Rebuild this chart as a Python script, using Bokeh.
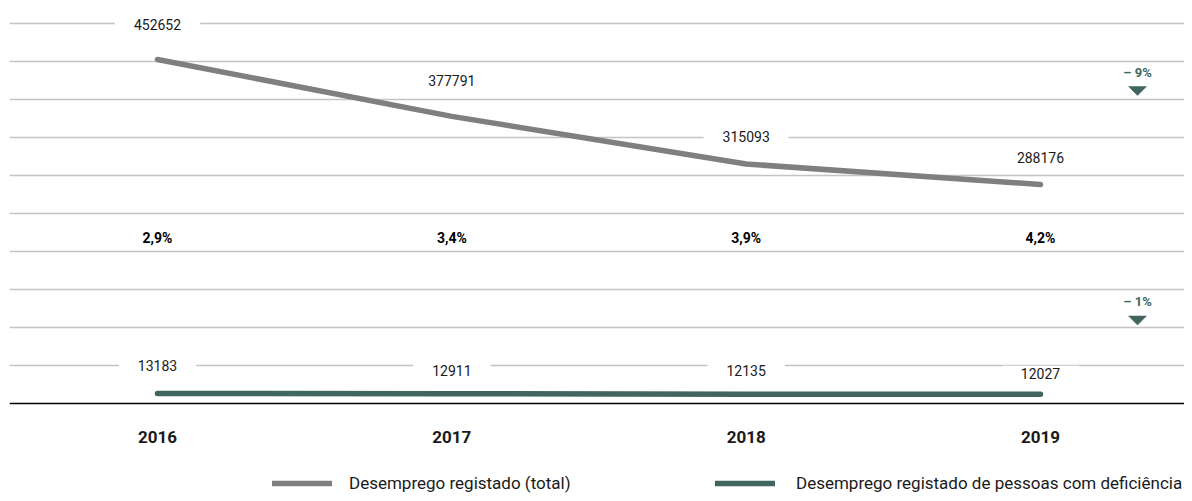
from bokeh.plotting import figure
from bokeh.models import (Range1d, FixedTicker, Legend, LegendItem,
                          ColumnDataSource, Span)
from bokeh.core.properties import value
from bokeh.embed import file_html
from bokeh.resources import INLINE

# ---------------- data ----------------
years = ["2016", "2017", "2018", "2019"]
total = [452652, 377791, 315093, 288176]
disabled = [13183, 12911, 12135, 12027]
share_labels = ["2,9%", "3,4%", "3,9%", "4,2%"]
change_total = "– 9%"
change_disabled = "– 1%"
series_names = ["Desemprego registado (total)",
                "Desemprego registado de pessoas com deficiência"]
grid_ticks = [50000, 100000, 150000, 200000, 250000, 300000, 350000, 400000, 450000, 500000]

# ---------------- style / layout ----------------
GRAY = "#7f7f7f"
GREEN = "#41665f"
GRID = "#c4c4c4"
TXT = "#1a1a1a"
FONT = "Roboto"
W, H = 1184, 493
LEFT = 9                       # frame left edge (px)
X0_PX, DX_PX = 157, 294.33     # px of first category, px per category
Y0_PX, Y_SPAN_PX, Y_SPAN_V = 403, 380, 500000   # px of zero, px for 500000

def yv(px):
    return (Y0_PX - px) * Y_SPAN_V / Y_SPAN_PX

def xv(px):
    return (px - X0_PX) / DX_PX

total_label_dy = [-35, -36, -28, -27]
disabled_label_dy = [-28, -23, -24, -21]
SHARE_PX = 237
YEAR_PX = 436
CHG_X_PX = 1137
CHG_TEXT_PX = [72, 301]
TRI_PX = [90.5, 320]
TRI_W, TRI_H = 18, 9

x = list(range(len(years)))

p = figure(width=W, height=H,
           x_range=Range1d(xv(LEFT), xv(W)), y_range=Range1d(yv(H), yv(0)),
           output_backend="svg", toolbar_location=None,
           x_axis_location=None, y_axis_location=None,
           min_border_left=LEFT, min_border_right=0,
           min_border_top=0, min_border_bottom=0)
p.outline_line_color = None
p.background_fill_color = "white"
p.border_fill_color = "white"

p.xgrid.visible = False
p.ygrid.ticker = FixedTicker(ticks=grid_ticks)
p.ygrid.grid_line_color = GRID
p.ygrid.grid_line_width = 1.3

# baseline (x axis line)
p.add_layout(Span(location=0, dimension="width", line_color="black", line_width=1.5))

# year tick labels
p.text(x, [yv(YEAR_PX)] * len(x), text=years, text_align="center", text_baseline="middle",
       text_font=value(FONT), text_font_style="bold", text_font_size="17px", text_color=TXT)

# value labels (white boxes interrupt gridlines)
pad = dict(left=19, right=19, top=2, bottom=2)
src_t = ColumnDataSource(dict(x=x, y=total, lab=[str(v) for v in total], dy=total_label_dy))
src_d = ColumnDataSource(dict(x=x, y=disabled, lab=[str(v) for v in disabled], dy=disabled_label_dy))
for src in (src_t, src_d):
    p.text("x", "y", text="lab", y_offset="dy", source=src,
           text_align="center", text_baseline="middle",
           text_font=value(FONT), text_font_size="14px", text_color=TXT,
           background_fill_color="white", padding=pad)

# lines
r1 = p.line(x, total, line_color=GRAY, line_width=5.5, line_cap="round", line_join="round")
r2 = p.line(x, disabled, line_color=GREEN, line_width=5.5, line_cap="round", line_join="round")

# share labels
p.text(x, [yv(SHARE_PX)] * len(x), text=share_labels, text_align="center", text_baseline="middle",
       text_font=value(FONT), text_font_style="bold", text_font_size="14px", text_color="black")

# change markers
cx = xv(CHG_X_PX)
p.text([cx, cx], [yv(v) for v in CHG_TEXT_PX], text=[change_total, change_disabled],
       text_align="center", text_baseline="middle",
       text_font=value(FONT), text_font_style="bold", text_font_size="13px", text_color=GREEN)
hw = TRI_W / 2 / DX_PX
tri_xs = [[cx - hw, cx + hw, cx] for _ in TRI_PX]
tri_ys = [[yv(c - TRI_H / 2), yv(c - TRI_H / 2), yv(c + TRI_H / 2)] for c in TRI_PX]
p.patches(tri_xs, tri_ys, fill_color=GREEN, line_color=GREEN, line_width=0.5)

# legends
def make_legend(label, r, loc, standoff):
    return Legend(items=[LegendItem(label=label, renderers=[r])], location=loc,
                  orientation="horizontal", glyph_width=60, glyph_height=20,
                  label_height=20, label_standoff=standoff, padding=0, margin=0,
                  border_line_color=None, background_fill_alpha=0,
                  label_text_font=FONT, label_text_font_size="17px",
                  label_text_color=TXT)

p.add_layout(make_legend(series_names[0], r1, (272 - LEFT, 0), 17))
p.add_layout(make_legend(series_names[1], r2, (715 - LEFT, 0), 21))

open("out.html", "w").write(file_html(p, INLINE))
